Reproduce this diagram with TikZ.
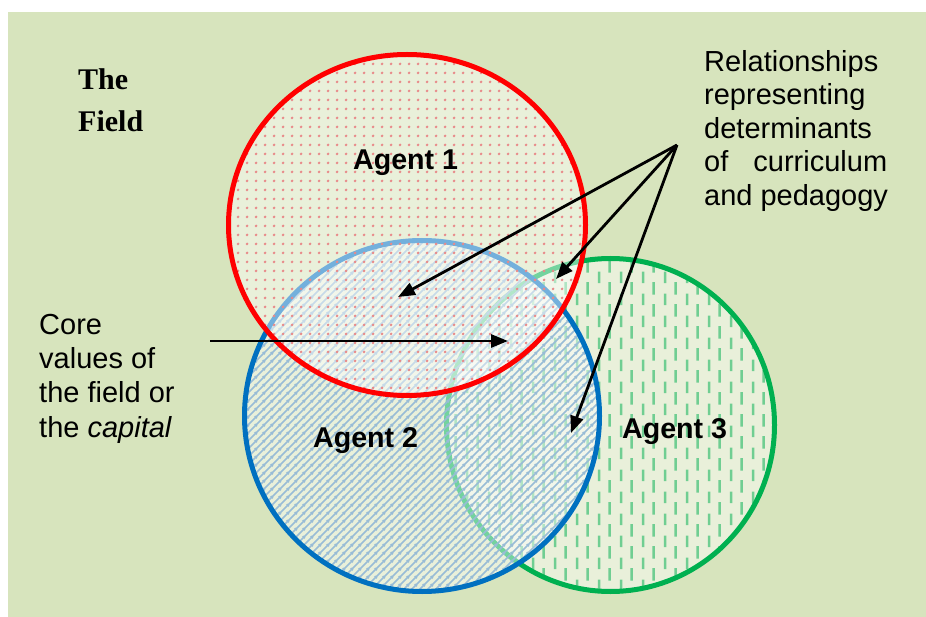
\documentclass[tikz,border=0pt]{standalone}
\usepackage{fontspec}
\setmainfont{Liberation Sans}
\newfontfamily\timesfont{Liberation Serif}
\usetikzlibrary{patterns.meta,arrows.meta}
\definecolor{bggreen}{HTML}{D7E4BD}
\definecolor{agred}{HTML}{FF0000}
\definecolor{agblue}{HTML}{0070C0}
\definecolor{aggreen}{HTML}{00B050}
\definecolor{dotred}{HTML}{E88A8A}
\definecolor{lineblue}{HTML}{98BCD6}
\definecolor{dashgreen}{HTML}{70CE92}
\tikzdeclarepattern{name=reddots, type=uncolored,
  bounding box={(0pt,0pt) and (9pt,9pt)}, tile size={(9pt,9pt)},
  code={\fill (4.5pt,4.5pt) circle (1.6pt);}}
\tikzdeclarepattern{name=bluelines, type=uncolored,
  bounding box={(0pt,0pt) and (8pt,8pt)}, tile size={(8pt,8pt)},
  code={\draw[line width=1.8pt] (-1pt,-1pt) -- (9pt,9pt);
        \draw[line width=1.8pt] (-1pt,7pt) -- (1pt,9pt);
        \draw[line width=1.8pt] (7pt,-1pt) -- (9pt,1pt);}}
\tikzdeclarepattern{name=greendashes, type=uncolored,
  bounding box={(0pt,0pt) and (22pt,22pt)}, tile size={(22pt,22pt)},
  code={\fill (4pt,4pt) rectangle (6.6pt,16pt);
        \fill (15pt,-7pt) rectangle (17.6pt,5pt);
        \fill (15pt,15pt) rectangle (17.6pt,27pt);}}
\begin{document}
\begin{tikzpicture}[x=1pt,y=-1pt,
  lbl/.style={inner sep=0pt, anchor=base west, font=\fontsize{29}{33.5}\selectfont},
  agent/.style={inner sep=0pt, anchor=base west, font=\fontsize{28.6}{33}\selectfont\bfseries},
  fieldlbl/.style={inner sep=0pt, anchor=base west, font=\fontsize{30}{36}\selectfont\timesfont\bfseries},
  arr/.style={line width=2.8pt, black, -{Triangle[length=17pt,width=13pt]}},
  lighten/.style={fill=white, fill opacity=0.45},
  ring/.style={line width=5pt}]
\useasboundingbox (0,0) rectangle (926,617);
\fill[bggreen] (8,12) rectangle (926,617);
% Agent 3 (green)
\fill[lighten] (610.5,425) ellipse [x radius=164pt, y radius=166.5pt];
\fill[pattern=greendashes, pattern color=dashgreen] (610.5,425) ellipse [x radius=164pt, y radius=166.5pt];
\draw[ring, aggreen] (610.5,425) ellipse [x radius=164pt, y radius=166.5pt];
% Agent 2 (blue)
\fill[lighten] (422,416) ellipse [x radius=177.5pt, y radius=175.5pt];
\fill[pattern=bluelines, pattern color=lineblue] (422,416) ellipse [x radius=177.5pt, y radius=175.5pt];
\draw[ring, agblue] (422,416) ellipse [x radius=177.5pt, y radius=175.5pt];
% Agent 1 (red)
\fill[lighten] (407,225) ellipse [x radius=178.5pt, y radius=170.5pt];
\fill[pattern=reddots, pattern color=dotred] (407,225) ellipse [x radius=178.5pt, y radius=170.5pt];
\draw[ring, agred] (407,225) ellipse [x radius=178.5pt, y radius=170.5pt];
% labels
\node[fieldlbl] (the) at (78,90) {The};
\node[fieldlbl] (field) at (78,132) {Field};
\node[agent] (a1) at (353,170) {Agent 1};
\node[agent] (a2) at (313,447) {Agent 2};
\node[agent] (a3) at (622,438) {Agent 3};
\node[lbl] (c1) at (39,335) {Core};
\node[lbl] (c2) at (39,368) {values of};
\node[lbl] (c3) at (39,402) {the field or};
\node[lbl] (c4) at (39,437) {the \textit{capital}};
\node[lbl] (r1) at (704,72) {Relationships};
\node[lbl] (r2) at (704,105) {representing};
\node[lbl] (r3) at (704,139) {determinants};
\node[lbl] (r4) at (704,172) {\hbox to 183pt{of\hfil curriculum}};
\node[lbl] (r5) at (704,206) {and pedagogy};
% arrows
\coordinate (src) at (677,145);
\coordinate (t1) at (398,297);
\coordinate (t2) at (556,279);
\coordinate (t3) at (571,433);
\coordinate (cs) at (210,341);
\coordinate (ct) at (508,341);
\draw[arr] (src) -- (t1);
\draw[arr] (src) -- (t2);
\draw[arr] (src) -- (t3);
\draw[arr] (cs) -- (ct);
\end{tikzpicture}
\end{document}
